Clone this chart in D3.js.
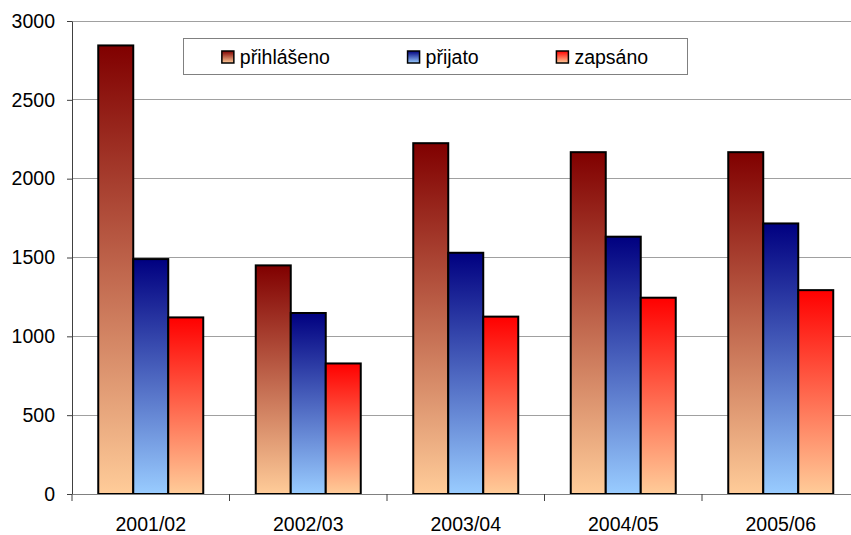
<!DOCTYPE html>
<html>
<head>
<meta charset="utf-8">
<script src="https://cdn.jsdelivr.net/npm/d3@7"></script>
<style>
  html, body { margin: 0; padding: 0; background: #fff; }
  svg { display: block; font-family: "Liberation Sans", Arial, sans-serif; }
</style>
</head>
<body>
<svg id="chart" width="851" height="535"></svg>
<script>
// Academic years
const years = ["2001/02", "2002/03", "2003/04", "2004/05", "2005/06"];
// Series names
const seriesNames = ["přihlášeno", "přijato", "zapsáno"];
// Applicants, admitted, enrolled
const prihlaseno = [2845, 1450, 2225, 2168, 2168];
const prijato = [1490, 1148, 1530, 1632, 1716];
const zapsano = [1120, 828, 1125, 1245, 1293];
// Value axis ticks
const yTicks = [0, 500, 1000, 1500, 2000, 2500, 3000];

const seriesValues = [prihlaseno, prijato, zapsano];
const gradStops = [
  ["#800000", "#FFCC99"],
  ["#000080", "#99CCFF"],
  ["#FF0000", "#FFCC99"]
];

const svg = d3.select("#chart");
const plot = { left: 72, right: 859.5, top: 21, bottom: 494 };

const defs = svg.append("defs");
gradStops.forEach((s, i) => {
  const g = defs.append("linearGradient")
    .attr("id", "grad" + i)
    .attr("x1", 0).attr("y1", 0).attr("x2", 0).attr("y2", 1);
  g.append("stop").attr("offset", "0%").attr("stop-color", s[0]);
  g.append("stop").attr("offset", "100%").attr("stop-color", s[1]);
});

const x = d3.scaleBand().domain(years).range([plot.left, plot.right]);
const step = x.bandwidth();
// bars are 1/4.5 of a category (150% gap width)
const barW = step / 4.5;
const xs = d3.scaleBand().domain(seriesNames)
  .range([(step - 3 * barW) / 2, (step + 3 * barW) / 2]);
const y = d3.scaleLinear().domain([0, 3000]).range([plot.bottom, plot.top]);

// gridlines
svg.append("g").selectAll("line")
  .data(yTicks.filter(d => d > 0))
  .join("line")
  .attr("x1", plot.left).attr("x2", plot.right)
  .attr("y1", d => y(d)).attr("y2", d => y(d))
  .attr("stroke", "#a0a0a0").attr("stroke-width", 1)
  .attr("shape-rendering", "crispEdges");

// bars
const rows = years.map((yr, i) => seriesNames.map((s, j) => ({ yr, s, j, v: seriesValues[j][i] })));
svg.append("g").selectAll("g")
  .data(rows)
  .join("g")
  .attr("transform", d => `translate(${x(d[0].yr)},0)`)
  .selectAll("rect")
  .data(d => d)
  .join("rect")
  .attr("x", d => xs(d.s))
  .attr("width", xs.bandwidth())
  .attr("y", d => y(d.v))
  .attr("height", d => y(0) - y(d.v))
  .attr("fill", d => `url(#grad${d.j})`)
  .attr("stroke", "#000")
  .attr("stroke-width", 2);

// y axis
const yAxis = svg.append("g")
  .attr("transform", `translate(${plot.left},0)`)
  .call(d3.axisLeft(y).tickValues(yTicks).tickFormat(d3.format("d"))
    .tickSizeInner(5).tickSizeOuter(0).tickPadding(12));
yAxis.select(".domain").attr("stroke", "#404040");
yAxis.selectAll(".tick line").attr("stroke", "#404040");
yAxis.selectAll("text").attr("font-size", 19.5).attr("fill", "#000")
  .attr("font-family", "Liberation Sans, Arial, sans-serif");

// x axis line and category boundary ticks
const xAxis = svg.append("g")
  .attr("transform", `translate(0,${plot.bottom})`)
  .call(d3.axisBottom(x).tickSize(0).tickPadding(23));
xAxis.select(".domain").attr("stroke", "#808080");
xAxis.selectAll("text").attr("font-size", 19.5).attr("fill", "#000")
  .attr("font-family", "Liberation Sans, Arial, sans-serif");
xAxis.selectAll(".boundary")
  .data(years.map(d => x(d)).concat([x(years[years.length - 1]) + step]))
  .join("line")
  .attr("class", "boundary")
  .attr("x1", d => d).attr("x2", d => d)
  .attr("y1", 0).attr("y2", 7)
  .attr("stroke", "#404040");

// legend
const legend = { x: 183, y: 38, w: 504, h: 36 };
const lg = svg.append("g");
lg.append("rect")
  .attr("x", legend.x + 0.5).attr("y", legend.y + 0.5)
  .attr("width", legend.w).attr("height", legend.h)
  .attr("fill", "#fff").attr("stroke", "#808080").attr("stroke-width", 1);
const items = lg.selectAll("g.item").data(seriesNames).join("g").attr("class", "item");
items.append("rect")
  .attr("x", 0).attr("y", legend.y + 13)
  .attr("width", 12).attr("height", 12)
  .attr("fill", (d, i) => `url(#grad${i})`)
  .attr("stroke", "#000").attr("stroke-width", 1.5);
items.append("text")
  .attr("x", 18).attr("y", legend.y + 26)
  .attr("font-size", 19.5).attr("fill", "#000")
  .text(d => d);
// spread items evenly: outer margins m, inner gaps 2m
const widths = items.nodes().map(n => 18 + n.querySelector("text").getComputedTextLength());
const m = (legend.w - d3.sum(widths)) / 6;
let cx = legend.x + m;
items.each(function(d, i) {
  d3.select(this).attr("transform", `translate(${cx},0)`);
  cx += widths[i] + 2 * m;
});
</script>
</body>
</html>
